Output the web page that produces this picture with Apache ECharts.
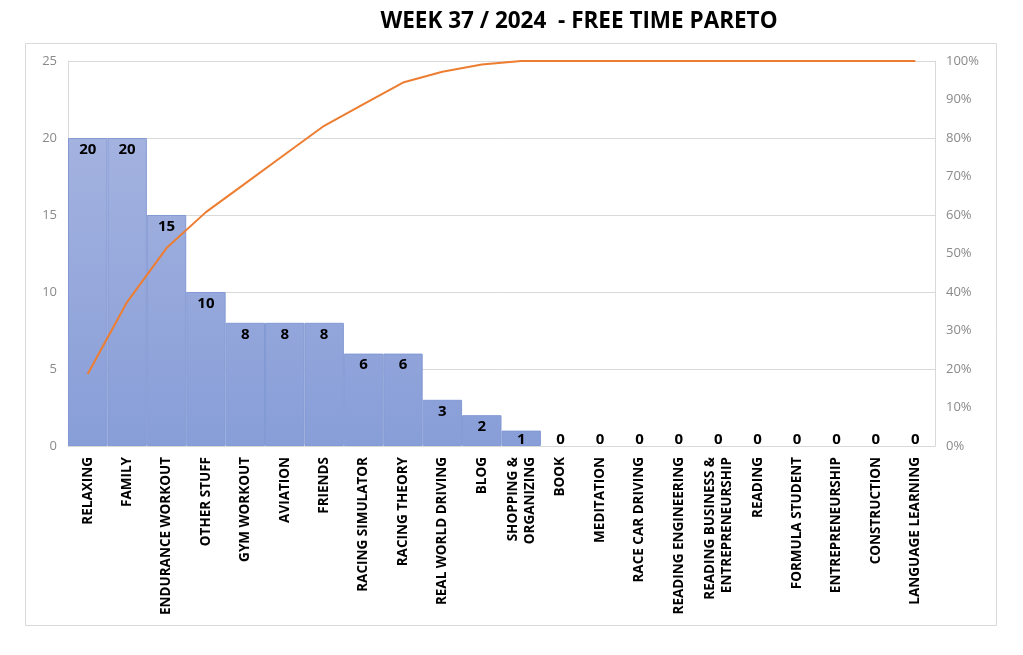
<!DOCTYPE html>
<html><head><meta charset="utf-8">
<script src="https://cdn.jsdelivr.net/npm/echarts@6/dist/echarts.min.js"></script>
<style>html,body{margin:0;padding:0;background:#fff}#c{width:1023px;height:655px}</style>
</head><body><div id="c"></div>
<script>
const categories = ["RELAXING","FAMILY","ENDURANCE WORKOUT","OTHER STUFF","GYM WORKOUT","AVIATION","FRIENDS","RACING SIMULATOR","RACING THEORY","REAL WORLD DRIVING","BLOG","SHOPPING &\nORGANIZING","BOOK","MEDITATION","RACE CAR DRIVING","READING ENGINEERING","READING BUSINESS &\nENTREPRENEURSHIP","READING","FORMULA STUDENT","ENTREPRENEURSHIP","CONSTRUCTION","LANGUAGE LEARNING"];
const hours = [20,20,15,10,8,8,8,6,6,3,2,1,0,0,0,0,0,0,0,0,0,0];
const titleText = "WEEK 37 / 2024  - FREE TIME PARETO";

const total = hours.reduce((a,b)=>a+b,0);
let run = 0;
const cumulative = hours.map(v => { run += v; return run/total; });

const chart = echarts.init(document.getElementById('c'));
const font = '"Open Sans", "Noto Sans", sans-serif';
chart.setOption({
  animation:false,
  title:{text:titleText,left:574,top:5,textAlign:'center',textStyle:{fontFamily:font,fontWeight:'bold',fontSize:22.5,color:'#000'}},
  graphic:[{type:'rect',shape:{x:25.5,y:43.5,width:971,height:582},style:{fill:'none',stroke:'#d9d9d9',lineWidth:1},z:-1}],
  grid:{left:68,right:88,top:61,bottom:209},
  xAxis:{type:'category',data:categories,
    axisLine:{show:true,lineStyle:{color:'#d9d9d9'}},axisTick:{show:false},
    axisLabel:{rotate:90,interval:0,margin:11,color:'#000',fontWeight:'bold',fontSize:13.5,fontFamily:font,lineHeight:17}},
  yAxis:[
    {type:'value',min:0,max:25,interval:5,
      axisLine:{show:true,lineStyle:{color:'#d9d9d9'}},axisTick:{show:false},
      splitLine:{lineStyle:{color:'#d9d9d9'}},
      axisLabel:{color:'#8a8a8a',fontSize:13,fontFamily:font,margin:11}},
    {type:'value',min:0,max:1,interval:0.1,
      axisLine:{show:true,lineStyle:{color:'#d9d9d9'}},axisTick:{show:false},
      splitLine:{show:false},
      axisLabel:{color:'#8a8a8a',fontSize:13,fontFamily:font,margin:11,formatter:v=>Math.round(v*100)+'%'}}
  ],
  series:[
    {type:'bar',data:hours.map(v=>({value:v,
        itemStyle:v===0?{borderWidth:0}:undefined,
        label:{position:v<2?'insideBottom':'insideTop',distance:v<2?-1:4}})),
      barCategoryGap:'0%',
      itemStyle:{color:new echarts.graphic.LinearGradient(0,61,0,446,[{offset:0,color:'#aab7e1'},{offset:1,color:'#889ed8'}],true),borderColor:'#8299d4',borderWidth:1},
      label:{show:true,color:'#000',fontWeight:'bold',fontSize:15,fontFamily:font}},
    {type:'line',yAxisIndex:1,data:cumulative,showSymbol:false,symbol:'none',
      lineStyle:{color:'#ed7d31',width:2},itemStyle:{color:'#ed7d31'},z:5}
  ]
});
</script></body></html>
